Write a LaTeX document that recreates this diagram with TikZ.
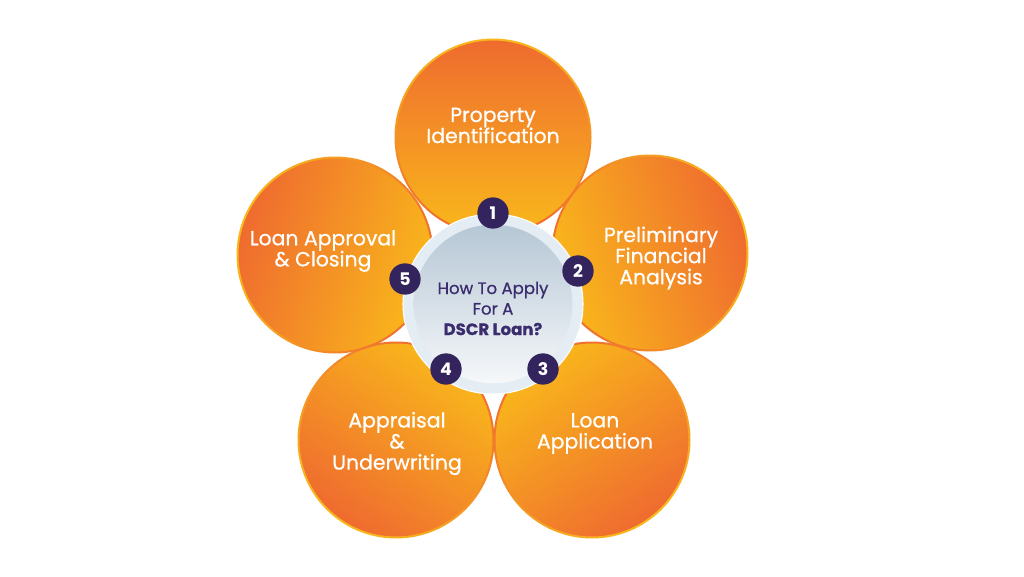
\documentclass[tikz,border=0pt]{standalone}
\usepackage{fontspec}
\setmainfont{Poppins}
\newfontfamily\medfont{Poppins}[FakeBold=0.7]
\usepackage{tikz}
\usetikzlibrary{positioning}
\definecolor{petalout}{HTML}{EF6B2F}
\definecolor{petalin}{HTML}{F9B81B}
\definecolor{hubtop}{HTML}{B6C7D5}
\definecolor{hubbottom}{HTML}{F6F8FA}
\definecolor{hubrim}{HTML}{E4ECF4}
\definecolor{ink}{HTML}{3B2C6E}
\definecolor{badgefill}{HTML}{33245E}
\tikzset{
  petal/.style={circle, inner sep=0pt, minimum size=145.5pt, top color=petalout, bottom color=petalin, shading angle=#1},
  rim/.style={even odd rule, top color=petalin, bottom color=petalout, shading angle=#1},
  petaltext/.style={align=center, text=white, font=\medfont\fontsize{15.3}{15.8}\selectfont},
  hubring/.style={circle, inner sep=0pt, minimum size=135pt, fill=hubrim, draw=white, line width=0.8pt},
  hub/.style={circle, inner sep=0pt, minimum size=119pt, top color=hubtop, bottom color=hubbottom},
  hubtext/.style={align=center, text=ink, font=\medfont\fontsize{12.4}{15.4}\selectfont},
  badge/.style={circle, inner sep=0pt, minimum size=23.5pt, fill=badgefill, text=white, font=\fontsize{13}{13}\selectfont\bfseries}
}
\begin{document}
\begin{tikzpicture}[x=0.75pt, y=0.75pt]
  \useasboundingbox[fill=white] (0,0) rectangle (1024,576);

  \node[petal=0] (ident) at (493,439) {};
  \node[petal=-72] (prelim) at (650,323) {};
  \node[petal=-144] (application) at (592,136) {};
  \node[petal=144] (appraisal) at (396,136) {};
  \node[petal=72] (closing) at (335,321) {};

  \shade[rim=0] (ident.center) circle (98.5) (ident.center) circle (96.5);
  \shade[rim=-72] (prelim.center) circle (98.5) (prelim.center) circle (96.5);
  \shade[rim=-144] (application.center) circle (98.5) (application.center) circle (96.5);
  \shade[rim=144] (appraisal.center) circle (98.5) (appraisal.center) circle (96.5);
  \shade[rim=72] (closing.center) circle (98.5) (closing.center) circle (96.5);

  \node[petaltext] (identtext) at (493,450.5) {Property\\Identification};
  \node[petaltext] (prelimtext) at (661,318) {Preliminary\\Financial\\Analysis};
  \node[petaltext] (applicationtext) at (595,142.5) {Loan\\Application};
  \node[petaltext] (appraisaltext) at (397,132.5) {Appraisal\\\&\\Underwriting};
  \node[petaltext] (closingtext) at (323,325) {Loan Approval\\\& Closing};

  \node[hubring] (hubring) at (493,272) {};
  \node[hub] (hub) at (493,272) {};
  \node[hubtext] (question) at (493,267.5) {How To Apply\\For A\\\textbf{DSCR Loan?}};

  \node[badge] (b1) at (493,363) {1};
  \node[badge] (b2) at (578,305) {2};
  \node[badge] (b3) at (543,207) {3};
  \node[badge] (b4) at (446,207) {4};
  \node[badge] (b5) at (405,297) {5};
\end{tikzpicture}
\end{document}
